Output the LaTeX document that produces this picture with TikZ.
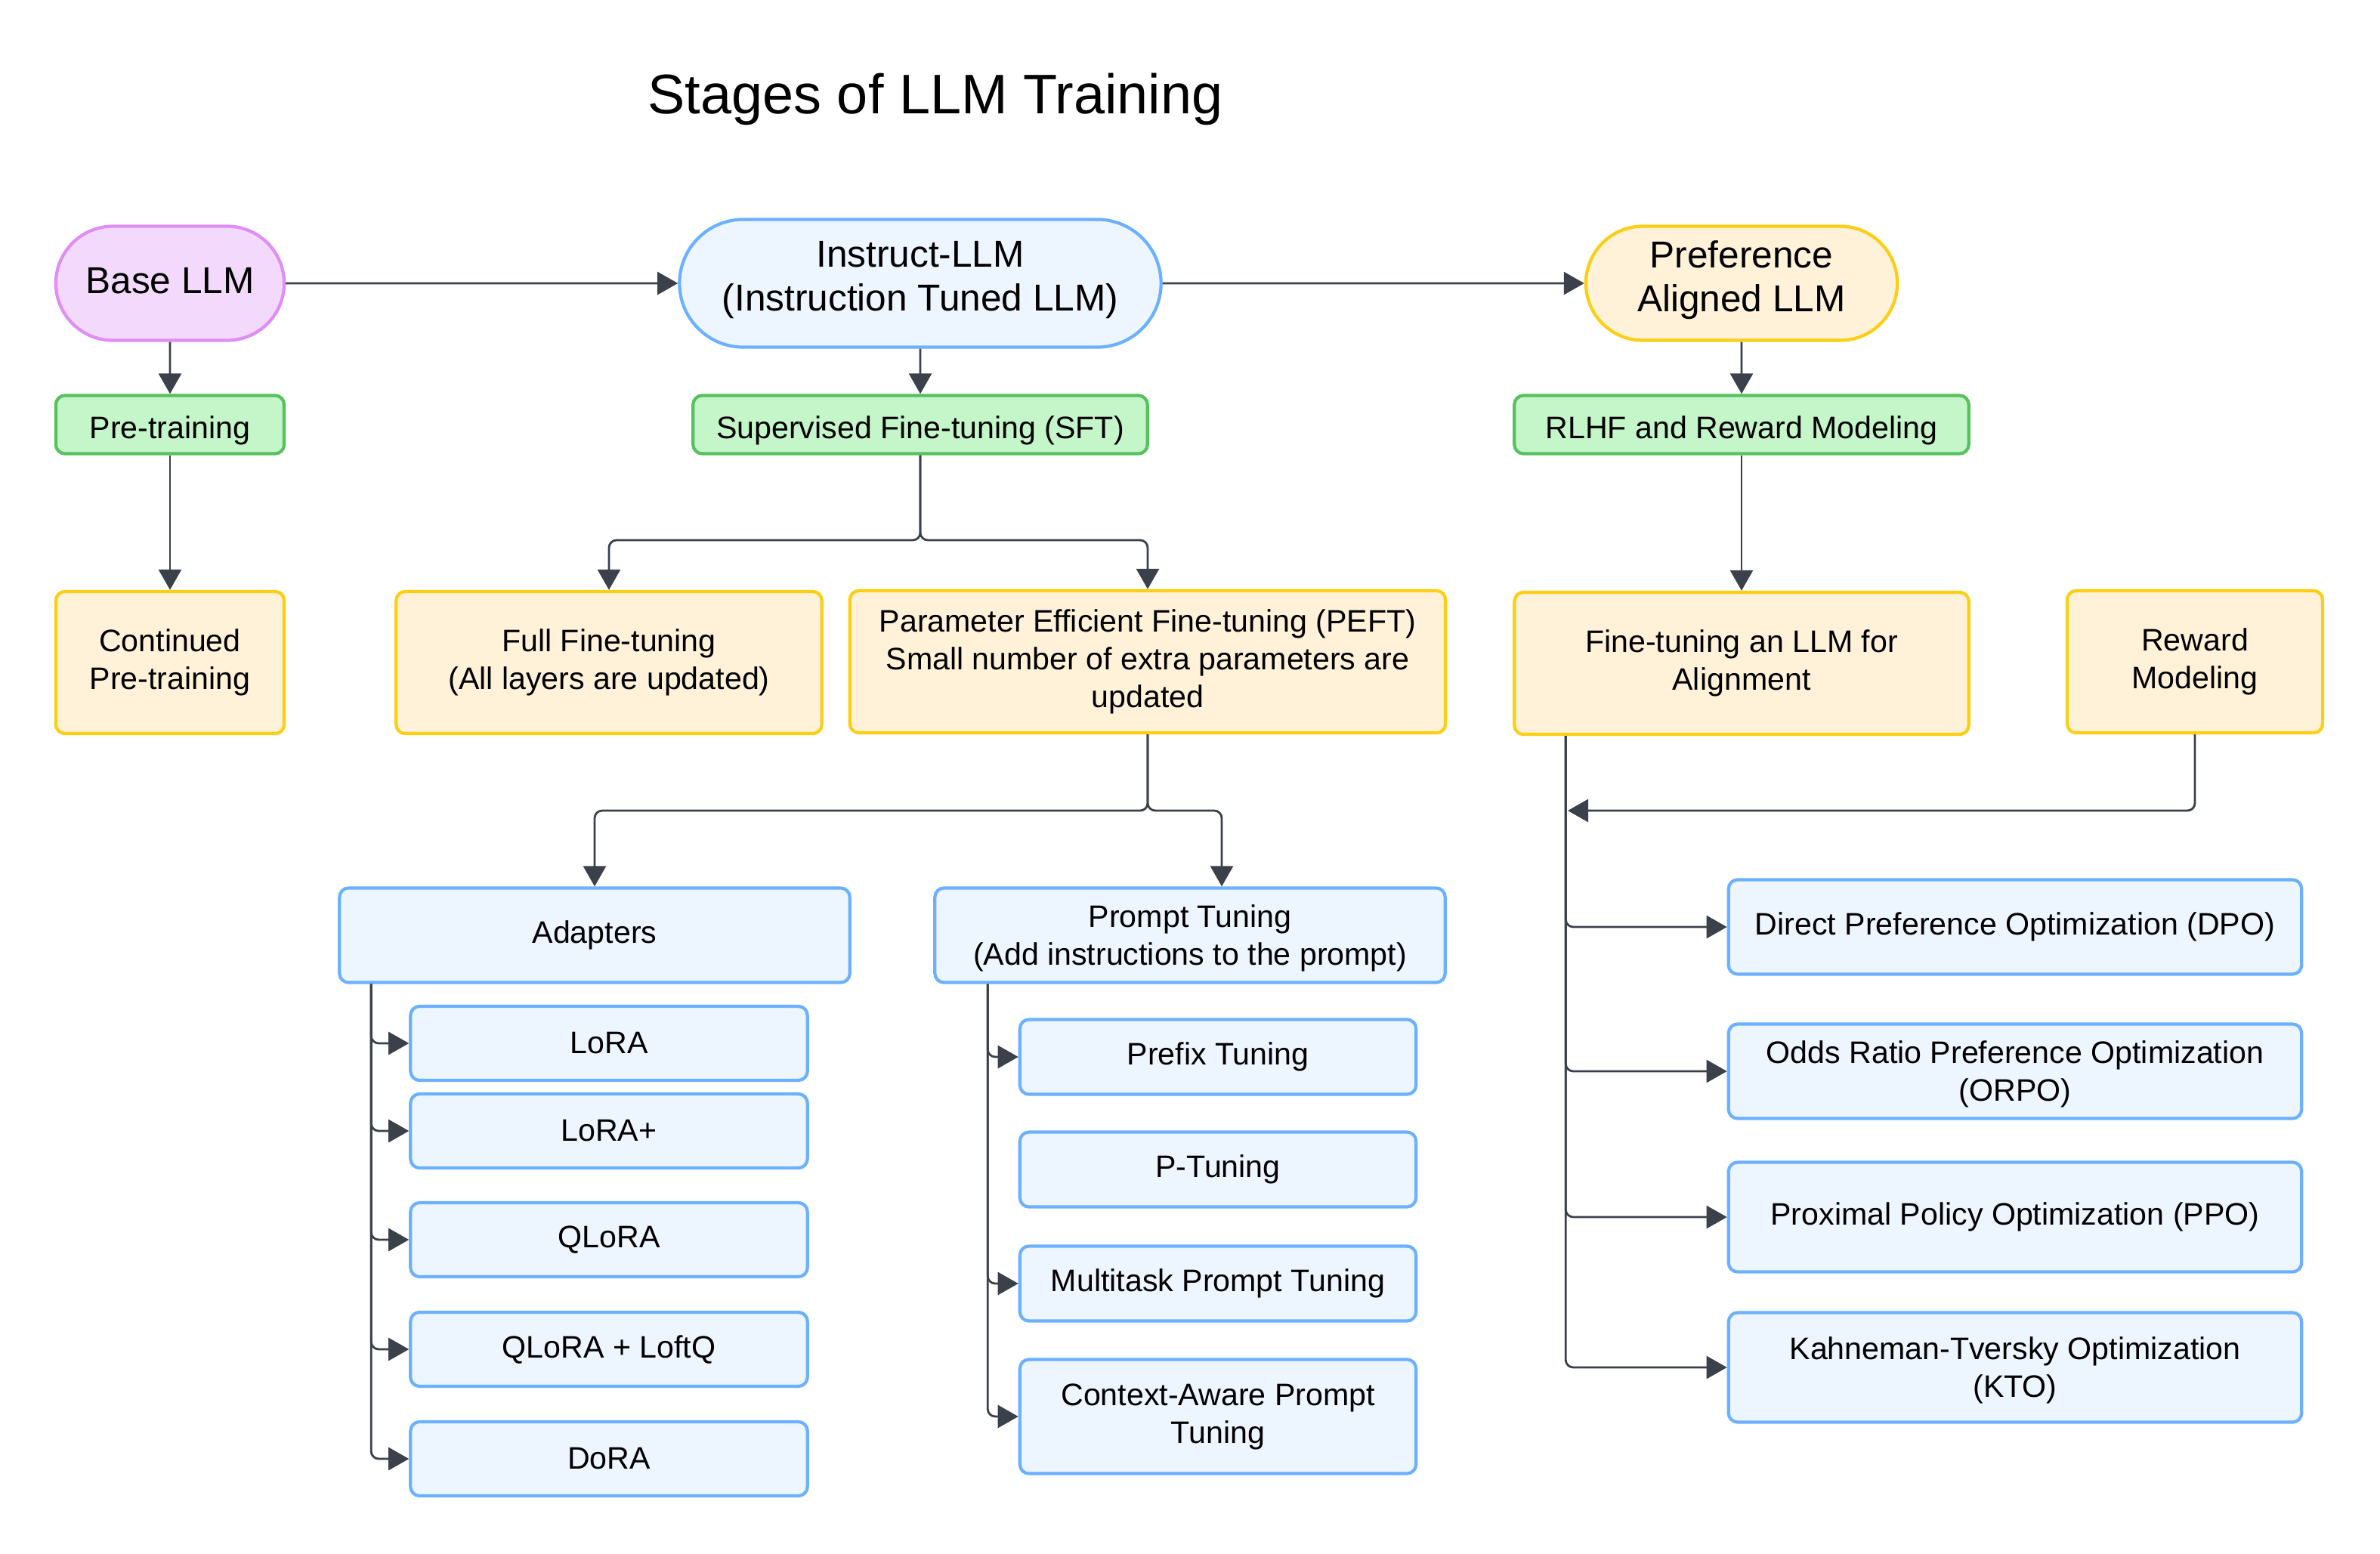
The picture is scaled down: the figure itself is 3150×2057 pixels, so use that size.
\documentclass[tikz,border=0pt]{standalone}
\usepackage{fontspec}
\setmainfont{Liberation Sans}
\usepackage{xcolor}
\usepackage{tikz}
\usetikzlibrary{shapes.misc,arrows.meta,positioning}

\definecolor{violetline}{HTML}{DF8DF7}
\definecolor{violetfill}{HTML}{F3D9FC}
\definecolor{blueline}{HTML}{6CB1FF}
\definecolor{bluefill}{HTML}{EDF5FF}
\definecolor{greenline}{HTML}{55C25E}
\definecolor{greenfill}{HTML}{C4F6C9}
\definecolor{yellowline}{HTML}{FCCE14}
\definecolor{yellowfill}{HTML}{FFF2D8}
\definecolor{linegray}{HTML}{3A414A}

\newcommand{\bigfont}{\fontsize{14.1}{16.6}\selectfont}
\newcommand{\smallfont}{\fontsize{11.7}{14.2}\selectfont}

\begin{document}
\begin{tikzpicture}[x=0.01cm, y=-0.01cm,
    llmstage/.style={rounded rectangle, line width=1.2pt, align=center, font=\bigfont, inner sep=0pt},
    trainphase/.style={rectangle, rounded corners=0.12cm, line width=1.2pt, draw=greenline, fill=greenfill, align=center, font=\smallfont, minimum width=6.01cm, minimum height=0.77cm, inner sep=0pt, text height=13pt, text depth=2.5pt},
    topic/.style={rectangle, rounded corners=0.12cm, line width=1.2pt, draw=yellowline, fill=yellowfill, align=center, font=\smallfont, minimum height=1.88cm, inner sep=0pt},
    method/.style={rectangle, rounded corners=0.12cm, line width=1.2pt, draw=blueline, fill=bluefill, align=center, font=\smallfont, inner sep=0pt},
    conn/.style={draw=linegray, line width=0.8pt, rounded corners=0.1cm, -{Triangle[length=2.7mm,width=3mm]}}]
    \useasboundingbox (0,0) rectangle (3150,2057);

    \node[font=\fontsize{21}{25}\selectfont] (title) at (1238,131) {Stages of LLM Training};

    % LLM stages
    \node[llmstage, draw=violetline, fill=violetfill, minimum width=3.02cm, minimum height=1.51cm, text depth=2.3pt] (base) at (225,375) {Base LLM};
    \node[llmstage, draw=blueline, fill=bluefill, minimum width=6.37cm, minimum height=1.69cm, text depth=5.3pt] (instruct) at (1218,375) {Instruct-LLM\\(Instruction Tuned LLM)};
    \node[llmstage, draw=yellowline, fill=yellowfill, minimum width=4.12cm, minimum height=1.51cm, text depth=5.3pt] (pref) at (2305,375) {Preference\\Aligned LLM};

    % training phases
    \node[trainphase, minimum width=3.02cm] (pretrain) at (225,562) {Pre-training};
    \node[trainphase] (sft) at (1218,562) {Supervised Fine-tuning (SFT)};
    \node[trainphase] (rlhf) at (2305,562) {RLHF and Reward Modeling};

    % topics
    \node[topic, minimum width=3.02cm] (contpre) at (225,877) {Continued\\Pre-training};
    \node[topic, minimum width=5.63cm] (fullft) at (806,877) {Full Fine-tuning\\(All layers are updated)};
    \node[topic, minimum width=7.88cm] (peft) at (1519,876) {Parameter Efficient Fine-tuning (PEFT)\\Small number of extra parameters are\\updated};
    \node[topic, minimum width=6.01cm] (align) at (2305,878) {Fine-tuning an LLM for\\Alignment};
    \node[topic, minimum width=3.38cm] (reward) at (2905,876) {Reward\\Modeling};

    % PEFT families
    \node[method, minimum width=6.75cm, minimum height=1.25cm] (adapters) at (787,1238) {Adapters};
    \node[method, minimum width=6.75cm, minimum height=1.25cm, text depth=0pt] (prompt) at (1575,1238) {Prompt Tuning\\(Add instructions to the prompt)};

    % adapters
    \node[method, minimum width=5.25cm, minimum height=0.98cm] (lora) at (806,1381) {LoRA};
    \node[method, minimum width=5.25cm, minimum height=0.98cm] (loraplus) at (806,1497) {LoRA+};
    \node[method, minimum width=5.25cm, minimum height=0.98cm] (qlora) at (806,1641) {QLoRA};
    \node[method, minimum width=5.25cm, minimum height=0.98cm] (loftq) at (806,1786) {QLoRA + LoftQ};
    \node[method, minimum width=5.25cm, minimum height=0.98cm] (dora) at (806,1931) {DoRA};

    % prompt tuning
    \node[method, minimum width=5.24cm, minimum height=0.99cm] (prefix) at (1612,1399) {Prefix Tuning};
    \node[method, minimum width=5.24cm, minimum height=0.99cm] (ptuning) at (1612,1548) {P-Tuning};
    \node[method, minimum width=5.24cm, minimum height=0.99cm] (multitask) at (1612,1699) {Multitask Prompt Tuning};
    \node[method, minimum width=5.24cm, minimum height=1.51cm] (context) at (1612,1875) {Context-Aware Prompt\\Tuning};

    % alignment methods
    \node[method, minimum width=7.58cm, minimum height=1.25cm] (dpo) at (2667,1227) {Direct Preference Optimization (DPO)};
    \node[method, minimum width=7.58cm, minimum height=1.25cm, text depth=0pt] (orpo) at (2667,1418) {Odds Ratio Preference Optimization\\(ORPO)};
    \node[method, minimum width=7.58cm, minimum height=1.45cm] (ppo) at (2667,1611) {Proximal Policy Optimization (PPO)};
    \node[method, minimum width=7.58cm, minimum height=1.45cm, text depth=0pt] (kto) at (2667,1810) {Kahneman-Tversky Optimization\\(KTO)};

    % top row
    \draw[conn] (base) -- (instruct);
    \draw[conn] (instruct) -- (pref);
    \draw[conn] (base) -- (pretrain);
    \draw[conn] (instruct) -- (sft);
    \draw[conn] (pref) -- (rlhf);
    \draw[conn] (pretrain) -- (contpre);
    \draw[conn] (rlhf) -- (align);

    % SFT fork
    \coordinate (sftfork) at (1218,715);
    \draw[conn] (sft) -- (sftfork) -| (fullft);
    \draw[conn] (sft) -- (sftfork) -| (peft);

    % PEFT fork
    \coordinate (peftfork) at (1519,1073);
    \draw[conn] (peft) -- (peftfork) -| (adapters);
    \draw[conn] (peft) -- (peftfork) -| ([xshift=0.42cm]prompt.north);

    % adapter branches
    \draw[conn] ([xshift=0.44cm]adapters.south west) |- (lora);
    \draw[conn] ([xshift=0.44cm]adapters.south west) |- (loraplus);
    \draw[conn] ([xshift=0.44cm]adapters.south west) |- (qlora);
    \draw[conn] ([xshift=0.44cm]adapters.south west) |- (loftq);
    \draw[conn] ([xshift=0.44cm]adapters.south west) |- (dora);

    % prompt tuning branches
    \draw[conn] ([xshift=0.72cm]prompt.south west) |- (prefix);
    \draw[conn] ([xshift=0.72cm]prompt.south west) |- (multitask);
    \draw[conn] ([xshift=0.72cm]prompt.south west) |- (context);

    % alignment branches
    \draw[conn] ([xshift=0.70cm]align.south west) |- (dpo);
    \draw[conn] ([xshift=0.70cm]align.south west) |- (orpo);
    \draw[conn] ([xshift=0.70cm]align.south west) |- (ppo);
    \draw[conn] ([xshift=0.70cm]align.south west) |- (kto);

    % reward model joins
    \coordinate (rwjoin) at (2075,1073);
    \draw[conn] (reward) |- (rwjoin);
\end{tikzpicture}
\end{document}
